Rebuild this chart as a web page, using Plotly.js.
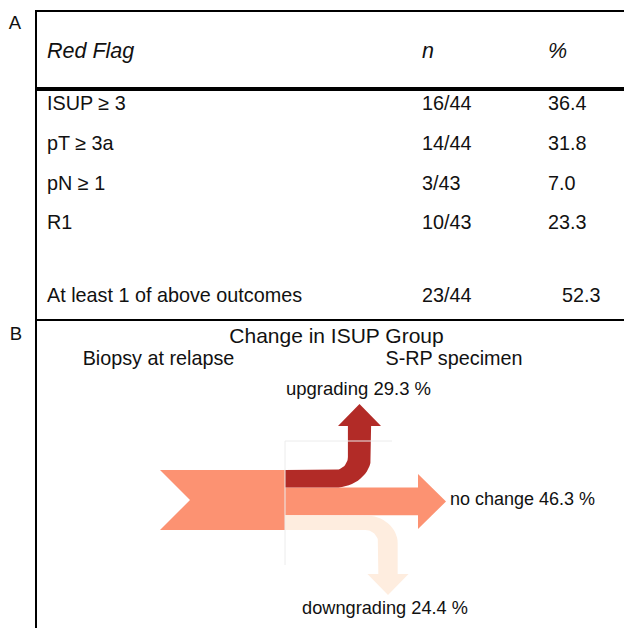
<!DOCTYPE html>
<html><head><meta charset="utf-8">
<script src="https://cdn.plot.ly/plotly-3.0.1.min.js"></script>
<style>html,body{margin:0;padding:0;background:#fff}#chart{width:624px;height:628px}</style>
</head><body><div id="chart"></div>
<script>
// ---- Data ----
const headers = ["Red Flag", "n", "%"];
const flags = ["ISUP ≥ 3", "pT ≥ 3a", "pN ≥ 1", "R1", "At least 1 of above outcomes"];
const counts = ["16/44", "14/44", "3/43", "10/43", "23/44"];
const percents = [36.4, 31.8, 7.0, 23.3, 52.3];
const changeNames = ["upgrading", "no change", "downgrading"];
const changeValues = [29.3, 46.3, 24.4];
const panelTitle = "Change in ISUP Group";
const stageLabels = ["Biopsy at relapse", "S-RP specimen"];
const panelLetters = ["A", "B"];

// ---- Layout helpers (pixel coordinate system) ----
const FONT = "Liberation Sans, Arial, sans-serif";
const DY = 2;
const rowY = [103, 143, 183, 222, 295];
const colX = [47, 422, 548];
const pctX = [548, 548, 548, 548, 562];

const traces = [];
function txt(x, y, t, pos, size, italic) {
  traces.push({type:'scatter', mode:'text', x:x, y:y.map(v=>v+DY), text:t, textposition:pos,
    textfont:{family:FONT, size:size, color:'#111', style: italic ? 'italic' : 'normal'},
    hoverinfo:'skip', cliponaxis:false});
}
// table
txt([15, 16], [22, 333], panelLetters, 'middle center', 18.5);
txt([colX[0]], [51], [headers[0]], 'middle right', 21.5, true);
txt([colX[1]], [51], [headers[1]], 'middle right', 21.5, true);
txt([colX[2]], [51], [headers[2]], 'middle right', 21.5, true);
txt(flags.map(()=>colX[0]), rowY, flags, 'middle right', 19.8);
txt(counts.map(()=>colX[1]), rowY, counts, 'middle right', 19.8);
txt(pctX, rowY, percents.map(v=>v.toFixed(1)), 'middle right', 19.8);

// ---- Arrow diagram ----
const total = changeValues.reduce((a,b)=>a+b,0);
const k = 60 / total;              // px per percent
const [hUp, hNo, hDn] = changeValues.map(v=>v*k);
const xL = 160, notch = 30, xs = 285, yT = 470, yB = yT + hUp + hNo + hDn;
const rIn = 13, shaftScale = 1.32;
const cols = {main:'#FC9272', up:'#B22B27', dn:'#FEEDDF'};

function arc(cx, cy, rx, ry, a0, a1, n) {
  const p = [];
  for (let i = 0; i <= n; i++) { const a = a0 + (a1-a0)*i/n; p.push([cx + rx*Math.cos(a), cy + ry*Math.sin(a)]); }
  return p;
}
function poly(pts, color) {
  traces.push({type:'scatter', mode:'lines', x:pts.map(p=>p[0]).concat([pts[0][0]]), y:pts.map(p=>p[1]).concat([pts[0][1]]),
    fill:'toself', fillcolor:color, line:{width:0, color:color}, hoverinfo:'skip'});
}
// incoming chevron
poly([[xL,yT],[xs,yT],[xs,yB],[xL,yB],[xL+notch,(yT+yB)/2]], cols.main);
// no change
const yN0 = yT + hUp, yN1 = yN0 + hNo, yNc = (yN0+yN1)/2;
poly([[xs,yN0],[418,yN0],[418,yNc-27.5],[446,yNc],[418,yNc+27.5],[418,yN1],[xs,yN1]], cols.main);
// upgrading
(function(){
  const cx = 359.5, w = hUp, ws = w*shaftScale, Cx = cx - ws/2 - rIn, Cy = yT - rIn, hb = 426, tip = 404, hh = 21.5;
  let pts = [[xs, yT]];
  pts = pts.concat(arc(Cx, Cy, rIn, rIn, Math.PI/2, 0, 16));
  pts.push([cx - ws/2, hb], [cx - hh, hb], [cx, tip], [cx + hh, hb], [cx + ws/2, hb]);
  pts = pts.concat(arc(Cx, Cy, rIn + ws, rIn + w, 0, Math.PI/2, 16));
  pts.push([xs, yT + w]);
  poly(pts, cols.up);
})();
// downgrading
(function(){
  const yD0 = yN1, yD1 = yB, cx = 388, w = hDn, ws = w*shaftScale, Cx = cx - ws/2 - rIn, Cy = yD1 + rIn, hb = 574, tip = 595, hh = 20.5;
  let pts = [[xs, yD0]];
  pts = pts.concat(arc(Cx, Cy, rIn + ws, rIn + w, -Math.PI/2, 0, 16));
  pts.push([cx + ws/2, hb], [cx + hh, hb], [cx, tip], [cx - hh, hb], [cx - ws/2, hb]);
  pts = pts.concat(arc(Cx, Cy, rIn, rIn, 0, -Math.PI/2, 16));
  pts.push([xs, yD1]);
  poly(pts, cols.dn);
})();

// labels panel B
const lbl = changeNames.map((n,i)=>n + ' ' + changeValues[i].toFixed(1) + ' %');
txt([336.5], [336], [panelTitle], 'middle center', 21);
txt([158.5, 454], [358, 358], stageLabels, 'middle center', 19.8);
txt([358.5], [388], [lbl[0]], 'middle center', 18.5);
txt([450], [498], [lbl[1]], 'middle right', 18);
txt([385], [607], [lbl[2]], 'middle center', 18.2);

const line = (x0,y0,x1,y1,w,c) => ({type:'line', xref:'x', yref:'y', x0, y0, x1, y1, line:{width:w, color:c||'#000'}});
const layout = {
  width: 624, height: 628, margin:{l:0,r:0,t:0,b:0},
  paper_bgcolor:'#fff', plot_bgcolor:'#fff', showlegend:false,
  xaxis:{range:[0,624], visible:false, fixedrange:true},
  yaxis:{range:[628,0], visible:false, fixedrange:true},
  shapes:[
    line(36,11,624,11,2), line(36,10,36,628,2), line(36,89,624,89,4), line(36,320,624,320,2),
    line(285,441,392,441,1,'#ececec'), line(285,441,285,565,1,'#ececec')
  ]
};
Plotly.newPlot('chart', traces, layout, {staticPlot:true, displayModeBar:false});
</script></body></html>
